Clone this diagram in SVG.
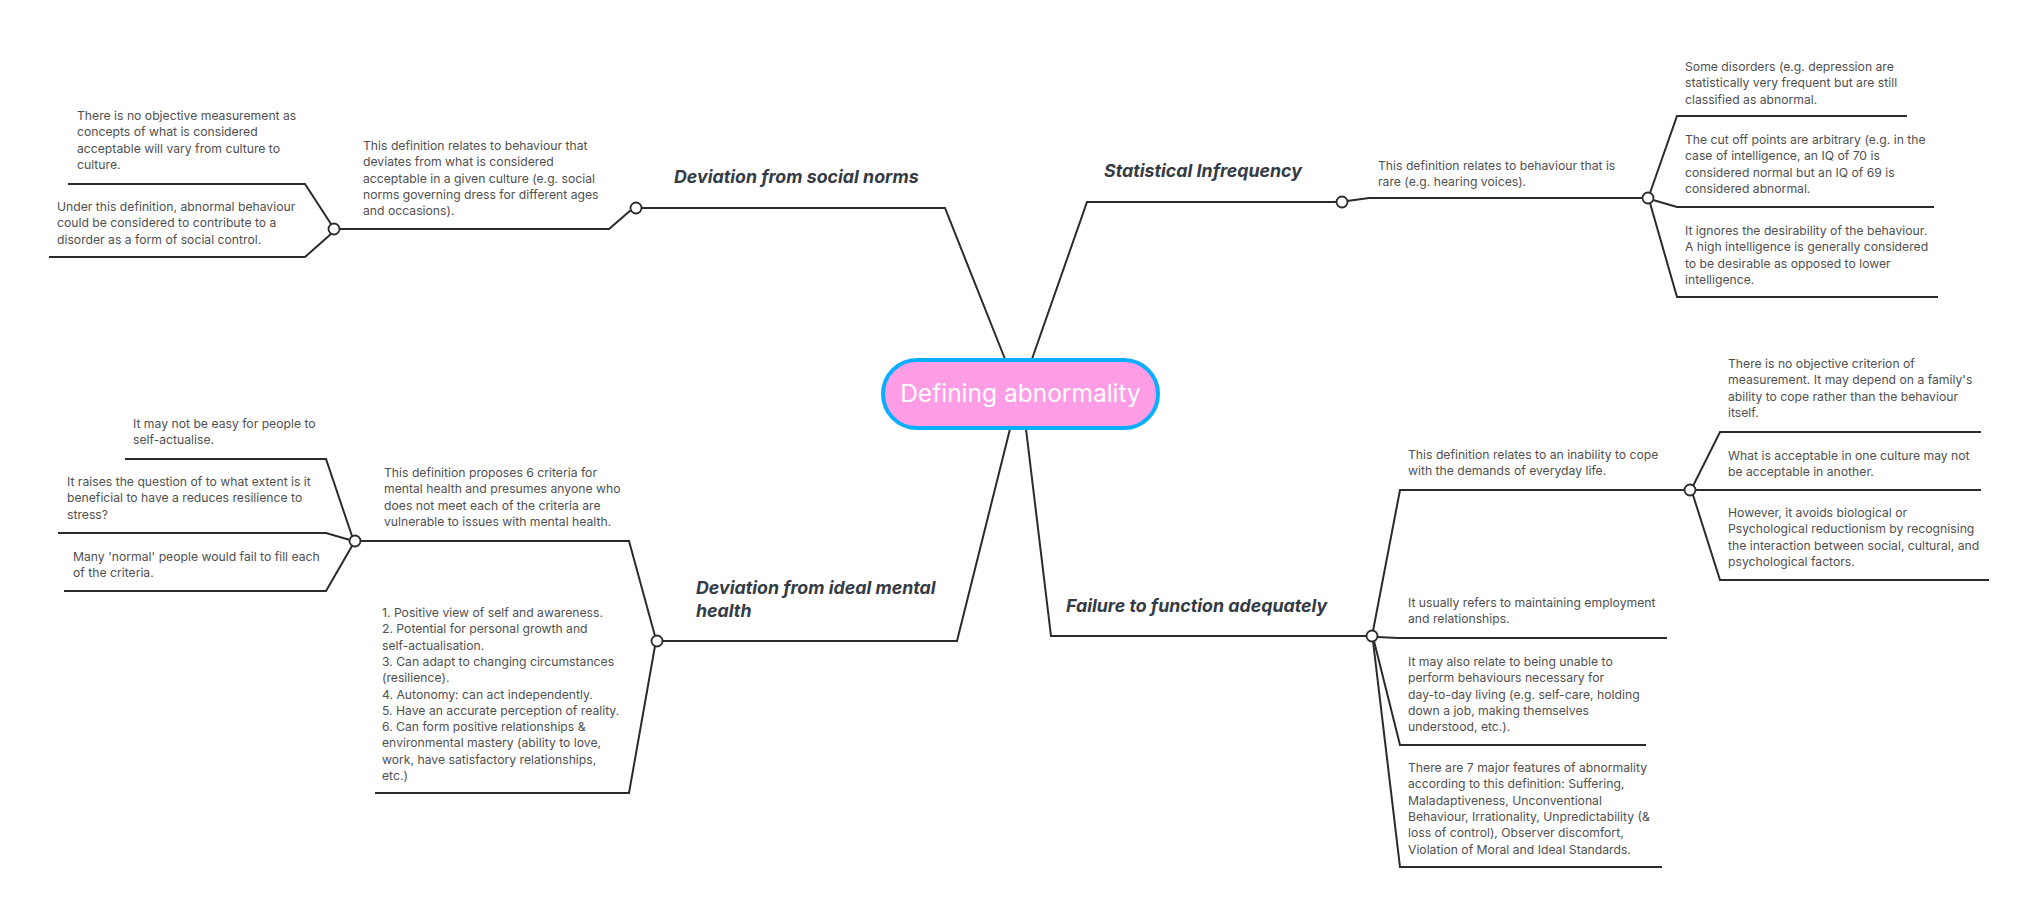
<svg xmlns="http://www.w3.org/2000/svg" width="2039" height="917" viewBox="0 0 2039 917">
<style>
.bg{fill:#ffffff}
.ln{fill:none;stroke:#2b2b2b;stroke-width:2;stroke-linejoin:miter}
.dot{fill:#ffffff;stroke:#2b2b2b;stroke-width:1.8}
.t{font-family:Inter,"Liberation Sans",sans-serif;font-size:12.2px;fill:#505050}
.h{font-family:Inter,"Liberation Sans",sans-serif;font-size:17.8px;font-weight:700;font-style:italic;fill:#343b44}
.c{font-family:Inter,"Liberation Sans",sans-serif;font-size:24.5px;fill:#ffffff}
</style>
<rect class="bg" x="0" y="0" width="2039" height="917"/>
<g id="connectors">
<path class="ln" d="M1005,359 L945,208 L640,208"/>
<path class="ln" d="M1032,359 L1087,202 L1337,202"/>
<path class="ln" d="M1026,429 L1051,636 L1367,636"/>
<path class="ln" d="M1010,429 L957,641 L662,641"/>
<path class="ln" d="M631,210 L609,229 L339,229"/>
<path class="ln" d="M331,224 L305,184 L68,184"/>
<path class="ln" d="M331,234 L305,257 L49,257"/>
<path class="ln" d="M1347,201 L1369,198 L1643,198"/>
<path class="ln" d="M1650,193 L1677,116 L1907,116"/>
<path class="ln" d="M1653,200 L1677,207 L1934,207"/>
<path class="ln" d="M1650,203 L1677,297 L1938,297"/>
<path class="ln" d="M1373,631 L1400,490 L1685,490"/>
<path class="ln" d="M1377,637 L1398,638 L1667,638"/>
<path class="ln" d="M1374,641 L1400,745 L1646,745"/>
<path class="ln" d="M1373,641 L1400,867 L1662,867"/>
<path class="ln" d="M1693,486 L1720,432 L1981,432"/>
<path class="ln" d="M1695,490 L1981,490"/>
<path class="ln" d="M1693,495 L1720,580 L1989,580"/>
<path class="ln" d="M655,636 L629,541 L360,541"/>
<path class="ln" d="M655,646 L629,793 L375,793"/>
<path class="ln" d="M352,536 L326,459 L125,459"/>
<path class="ln" d="M350,540 L326,533 L58,533"/>
<path class="ln" d="M352,546 L326,591 L64,591"/>
<circle class="dot" cx="636" cy="208" r="5.5"/>
<circle class="dot" cx="334" cy="229" r="5.5"/>
<circle class="dot" cx="1342" cy="202" r="5.5"/>
<circle class="dot" cx="1648" cy="198" r="5.5"/>
<circle class="dot" cx="1372" cy="636" r="5.5"/>
<circle class="dot" cx="1690" cy="490" r="5.5"/>
<circle class="dot" cx="657" cy="641" r="5.5"/>
<circle class="dot" cx="355" cy="541" r="5.5"/>
</g>
<g id="center">
<rect x="883" y="360" width="275" height="68" rx="34" fill="#ff9ce6" stroke="#0aaeff" stroke-width="4"/>
<text class="c" x="1020.5" y="402" text-anchor="middle">Defining abnormality</text>
</g>
<g id="social-norms">
<text class="h" x="674" y="183">Deviation from social norms</text>
</g>
<g id="social-def">
<text class="t"><tspan x="363" y="150">This definition relates to behaviour that</tspan><tspan x="363" y="166.3">deviates from what is considered</tspan><tspan x="363" y="182.6">acceptable in a given culture (e.g. social</tspan><tspan x="363" y="198.9">norms governing dress for different ages</tspan><tspan x="363" y="215.2">and occasions).</tspan></text>
</g>
<g id="social-crit1">
<text class="t"><tspan x="77" y="120">There is no objective measurement as</tspan><tspan x="77" y="136.3">concepts of what is considered</tspan><tspan x="77" y="152.6">acceptable will vary from culture to</tspan><tspan x="77" y="168.9">culture.</tspan></text>
</g>
<g id="social-crit2">
<text class="t"><tspan x="57" y="211">Under this definition, abnormal behaviour</tspan><tspan x="57" y="227.3">could be considered to contribute to a</tspan><tspan x="57" y="243.6">disorder as a form of social control.</tspan></text>
</g>
<g id="statistical">
<text class="h" x="1104" y="177">Statistical Infrequency</text>
</g>
<g id="stat-def">
<text class="t"><tspan x="1378" y="170">This definition relates to behaviour that is</tspan><tspan x="1378" y="186.3">rare (e.g. hearing voices).</tspan></text>
</g>
<g id="stat-crit1">
<text class="t"><tspan x="1685" y="71">Some disorders (e.g. depression are</tspan><tspan x="1685" y="87.3">statistically very frequent but are still</tspan><tspan x="1685" y="103.6">classified as abnormal.</tspan></text>
</g>
<g id="stat-crit2">
<text class="t"><tspan x="1685" y="144">The cut off points are arbitrary (e.g. in the</tspan><tspan x="1685" y="160.3">case of intelligence, an IQ of 70 is</tspan><tspan x="1685" y="176.6">considered normal but an IQ of 69 is</tspan><tspan x="1685" y="192.9">considered abnormal.</tspan></text>
</g>
<g id="stat-crit3">
<text class="t"><tspan x="1685" y="235">It ignores the desirability of the behaviour.</tspan><tspan x="1685" y="251.3">A high intelligence is generally considered</tspan><tspan x="1685" y="267.6">to be desirable as opposed to lower</tspan><tspan x="1685" y="283.9">intelligence.</tspan></text>
</g>
<g id="failure">
<text class="h" x="1066" y="612">Failure to function adequately</text>
</g>
<g id="fail-def">
<text class="t"><tspan x="1408" y="459">This definition relates to an inability to cope</tspan><tspan x="1408" y="475.3">with the demands of everyday life.</tspan></text>
</g>
<g id="fail-crit1">
<text class="t"><tspan x="1728" y="368">There is no objective criterion of</tspan><tspan x="1728" y="384.3">measurement. It may depend on a family's</tspan><tspan x="1728" y="400.6">ability to cope rather than the behaviour</tspan><tspan x="1728" y="416.9">itself.</tspan></text>
</g>
<g id="fail-crit2">
<text class="t"><tspan x="1728" y="460">What is acceptable in one culture may not</tspan><tspan x="1728" y="476.3">be acceptable in another.</tspan></text>
</g>
<g id="fail-crit3">
<text class="t"><tspan x="1728" y="517">However, it avoids biological or</tspan><tspan x="1728" y="533.3">Psychological reductionism by recognising</tspan><tspan x="1728" y="549.6">the interaction between social, cultural, and</tspan><tspan x="1728" y="565.9">psychological factors.</tspan></text>
</g>
<g id="fail-info1">
<text class="t"><tspan x="1408" y="607">It usually refers to maintaining employment</tspan><tspan x="1408" y="623.3">and relationships.</tspan></text>
</g>
<g id="fail-info2">
<text class="t"><tspan x="1408" y="666">It may also relate to being unable to</tspan><tspan x="1408" y="682.3">perform behaviours necessary for</tspan><tspan x="1408" y="698.6">day-to-day living (e.g. self-care, holding</tspan><tspan x="1408" y="714.9">down a job, making themselves</tspan><tspan x="1408" y="731.2">understood, etc.).</tspan></text>
</g>
<g id="fail-info3">
<text class="t"><tspan x="1408" y="772">There are 7 major features of abnormality</tspan><tspan x="1408" y="788.3">according to this definition: Suffering,</tspan><tspan x="1408" y="804.6">Maladaptiveness, Unconventional</tspan><tspan x="1408" y="820.9">Behaviour, Irrationality, Unpredictability (&amp;</tspan><tspan x="1408" y="837.2">loss of control), Observer discomfort,</tspan><tspan x="1408" y="853.5">Violation of Moral and Ideal Standards.</tspan></text>
</g>
<g id="mental-health">
<text class="h"><tspan x="696" y="594">Deviation from ideal mental</tspan><tspan x="696" y="617">health</tspan></text>
</g>
<g id="mental-def">
<text class="t"><tspan x="384" y="477">This definition proposes 6 criteria for</tspan><tspan x="384" y="493.3">mental health and presumes anyone who</tspan><tspan x="384" y="509.6">does not meet each of the criteria are</tspan><tspan x="384" y="525.9">vulnerable to issues with mental health.</tspan></text>
</g>
<g id="mental-criteria">
<text class="t"><tspan x="382" y="617">1. Positive view of self and awareness.</tspan><tspan x="382" y="633.3">2. Potential for personal growth and</tspan><tspan x="382" y="649.6">self-actualisation.</tspan><tspan x="382" y="665.9">3. Can adapt to changing circumstances</tspan><tspan x="382" y="682.2">(resilience).</tspan><tspan x="382" y="698.5">4. Autonomy: can act independently.</tspan><tspan x="382" y="714.8">5. Have an accurate perception of reality.</tspan><tspan x="382" y="731.1">6. Can form positive relationships &amp;</tspan><tspan x="382" y="747.4">environmental mastery (ability to love,</tspan><tspan x="382" y="763.7">work, have satisfactory relationships,</tspan><tspan x="382" y="780">etc.)</tspan></text>
</g>
<g id="mental-crit1">
<text class="t"><tspan x="133" y="428">It may not be easy for people to</tspan><tspan x="133" y="444.3">self-actualise.</tspan></text>
</g>
<g id="mental-crit2">
<text class="t"><tspan x="67" y="486">It raises the question of to what extent is it</tspan><tspan x="67" y="502.3">beneficial to have a reduces resilience to</tspan><tspan x="67" y="518.6">stress?</tspan></text>
</g>
<g id="mental-crit3">
<text class="t"><tspan x="73" y="561">Many 'normal' people would fail to fill each</tspan><tspan x="73" y="577.3">of the criteria.</tspan></text>
</g>
</svg>
